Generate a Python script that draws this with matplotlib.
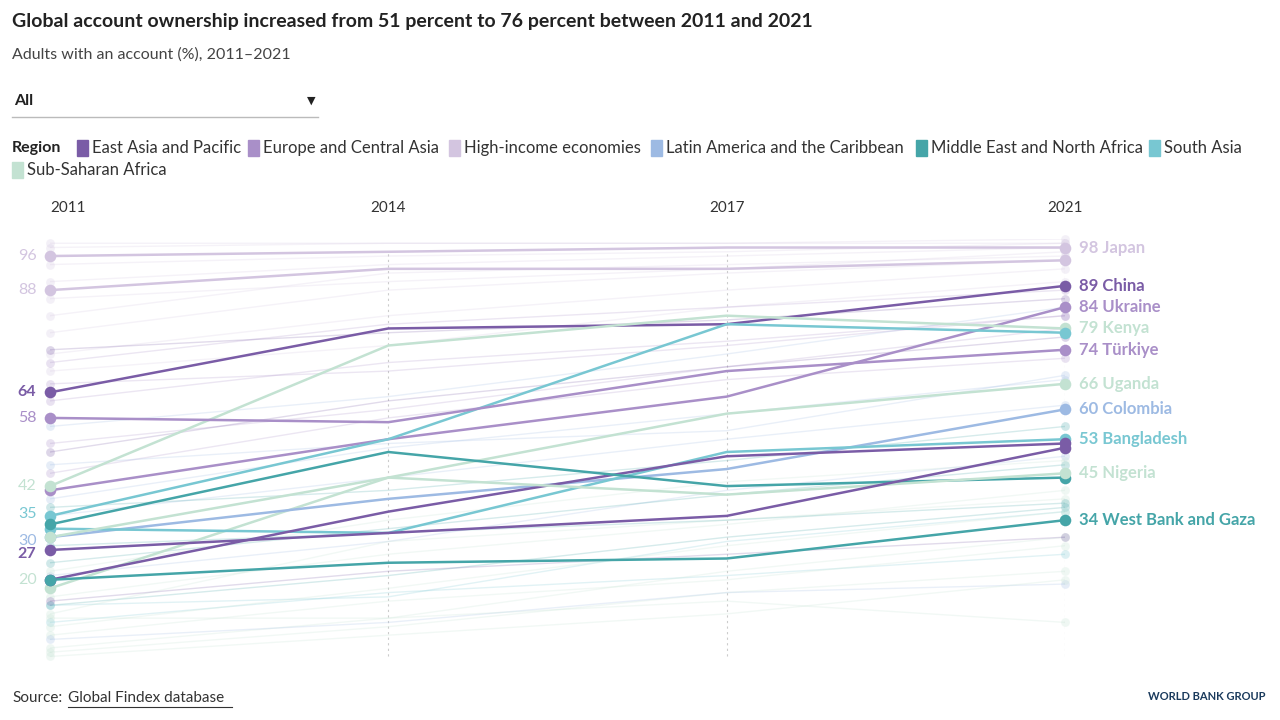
import matplotlib.pyplot as plt
from matplotlib.patches import Rectangle
from matplotlib.lines import Line2D

plt.rcParams['font.family'] = ['Lato', 'DejaVu Sans']

years = ["2011", "2014", "2017", "2021"]

regions = ["East Asia and Pacific", "Europe and Central Asia", "High-income economies",
           "Latin America and the Caribbean", "Middle East and North Africa", "South Asia",
           "Sub-Saharan Africa"]
region_colors = ["#7a5ca6", "#a98fc8", "#d3c5e0", "#9dbae3", "#45a5a8", "#78c7d2", "#c3e2d2"]

# highlighted economies
hl_names = ["Japan", "Korea", "China", "Ukraine", "Kenya", "India", "Türkiye", "Uganda",
            "Colombia", "Bangladesh", "Indonesia", "Iran", "Nigeria", "Philippines",
            "West Bank and Gaza"]
hl_region = [2, 2, 0, 1, 6, 5, 1, 6, 3, 5, 0, 4, 6, 0, 4]
hl_values = [
    [96, 97, 98, 98],
    [88, 93, 93, 95],
    [64, 79, 80, 89],
    [41, 53, 63, 84],
    [42, 75, 82, 79],
    [35, 53, 80, 78],
    [58, 57, 69, 74],
    [18, 44, 59, 66],
    [30, 39, 46, 60],
    [32, 31, 50, 53],
    [20, 36, 49, 52],
    [33, 50, 42, 44],
    [30, 44, 40, 45],
    [27, 31, 35, 51],
    [20, 24, 25, 34],
]
hl_labelled = [True, False, True, True, True, False, True, True, True, True, False, False,
               True, False, True]
left_labels = [96, 88, 64, 58, 42, 35, 30, 27, 20]
left_label_region = [2, 2, 0, 1, 6, 5, 3, 0, 6]

# faint background economies
bg_region = [2, 2, 2, 2, 2, 2, 2, 1, 1, 1, 1, 3, 3, 3, 3, 3, 4, 4, 4, 5, 5, 6, 6, 6, 6,
             6, 6, 6, 0, 0, 0, 1, 3, 6, 6, 2, 2, 4]
bg_values = [
    [99, 99, 99, 100], [98, 99, 99, 99], [94, 96, 97, 99], [82, 92, 94, 96],
    [78, 88, 92, 95], [73, 82, 88, 93], [69, 75, 84, 90], [71, 80, 84, 88],
    [62, 71, 76, 82], [52, 60, 70, 79], [45, 58, 67, 72], [56, 63, 73, 84],
    [47, 52, 55, 68], [39, 51, 59, 67], [35, 44, 53, 61], [21, 29, 41, 49],
    [24, 32, 40, 47], [14, 21, 30, 37], [37, 41, 48, 56], [10, 17, 21, 26],
    [14, 16, 29, 36], [12, 29, 34, 39], [9, 18, 28, 36], [7, 15, 20, 28],
    [4, 11, 22, 30], [16, 26, 33, 41], [22, 34, 43, 48], [3, 9, 17, 22],
    [74, 78, 81, 86], [50, 62, 70, 77], [15, 22, 26, 30], [66, 69, 75, 82],
    [6, 10, 17, 19], [11, 11, 15, 10], [2, 7, 12, 20], [86, 90, 93, 97],
    [90, 94, 96, 98], [28, 31, 34, 38],
]

fig = plt.figure(figsize=(12.8, 7.2), dpi=100)
ax = fig.add_axes([50 / 1280, 1 - 665 / 720, 1015 / 1280, 426 / 720])
x = list(range(len(years)))

for r, v in zip(bg_region, bg_values):
    ax.plot(x, v, color=region_colors[r], alpha=0.22, lw=1, zorder=1)
    ax.scatter([0, 3], [v[0], v[3]], color=region_colors[r], alpha=0.25, s=40, lw=0,
               zorder=1, clip_on=False)

for i in x[1:]:
    ax.axvline(i, ymin=0.02, ymax=0.97, color="#cccccc", ls=(0, (2, 3)), lw=0.8, zorder=0)

for name, r, v, lab in zip(hl_names, hl_region, hl_values, hl_labelled):
    c = region_colors[r]
    ax.plot(x, v, color=c, lw=1.8, zorder=3)
    ax.scatter([0, 3], [v[0], v[3]], color=c, s=70, lw=0, zorder=4, clip_on=False)
    if lab:
        ax.text(3.04, v[3], f"{v[3]} {name}", color=c, fontsize=12, fontweight="bold",
                va="center", ha="left")

label_nudge = {35: 0.5, 30: -0.8, 27: -1.0}
for val, r in zip(left_labels, left_label_region):
    bold = r == 0
    ax.text(-0.04, val + label_nudge.get(val, 0), str(val), color=region_colors[r],
            fontsize=11.5, fontweight="bold" if bold else "normal", va="center", ha="right")

ax.set_xlim(0, 3)
ax.set_ylim(0, 100)
ax.axis("off")

for i, yr in enumerate(years):
    ha = "left" if i == 0 else "center"
    fig.text((50 + i * 1015 / 3) / 1280, 1 - 208 / 720, yr, ha=ha, va="center",
             fontsize=11, color="#333333")

fig.text(12 / 1280, 1 - 22 / 720,
         "Global account ownership increased from 51 percent to 76 percent between 2011 and 2021",
         fontsize=14, fontweight="bold", color="#222222", va="center")
fig.text(12 / 1280, 1 - 55 / 720, "Adults with an account (%), 2011–2021", fontsize=11.5,
         color="#444444", va="center")

# dropdown
fig.text(14 / 1280, 1 - 101 / 720, "All", fontsize=11.5, fontweight="bold", color="#222222",
         va="center")
fig.add_artist(Line2D([12 / 1280, 318 / 1280], [1 - 117 / 720] * 2, color="#bbbbbb", lw=1))
fig.text(311 / 1280, 1 - 100 / 720, "▼", fontsize=8, color="#222222", ha="center", va="center")

# legend
fig.text(12 / 1280, 1 - 148 / 720, "Region", fontsize=11.5, fontweight="bold",
         color="#222222", va="center")
sq_x = [77, 248, 449, 651, 916, 1149, 12]
sq_y = [148, 148, 148, 148, 148, 148, 170]
for r, (sx, sy) in enumerate(zip(sq_x, sq_y)):
    fig.add_artist(Rectangle((sx / 1280, 1 - (sy + 8) / 720), 11 / 1280, 16 / 720,
                             color=region_colors[r], transform=fig.transFigure))
    fig.text((sx + 15) / 1280, 1 - sy / 720, regions[r], fontsize=12, color="#333333",
             va="center")

fig.text(12 / 1280, 1 - 698 / 720, "Source:", fontsize=11, color="#333333", va="center")
fig.text(68 / 1280, 1 - 698 / 720, "Global Findex database", fontsize=11, color="#333333",
         va="center")
fig.add_artist(Line2D([68 / 1280, 232 / 1280], [1 - 707 / 720] * 2, color="#333333", lw=0.8))
fig.text(1266 / 1280, 1 - 696 / 720, "WORLD BANK GROUP", fontsize=8, fontweight="bold",
         color="#1a3a5c", ha="right", va="center")

fig.savefig("out.png", dpi=100)
